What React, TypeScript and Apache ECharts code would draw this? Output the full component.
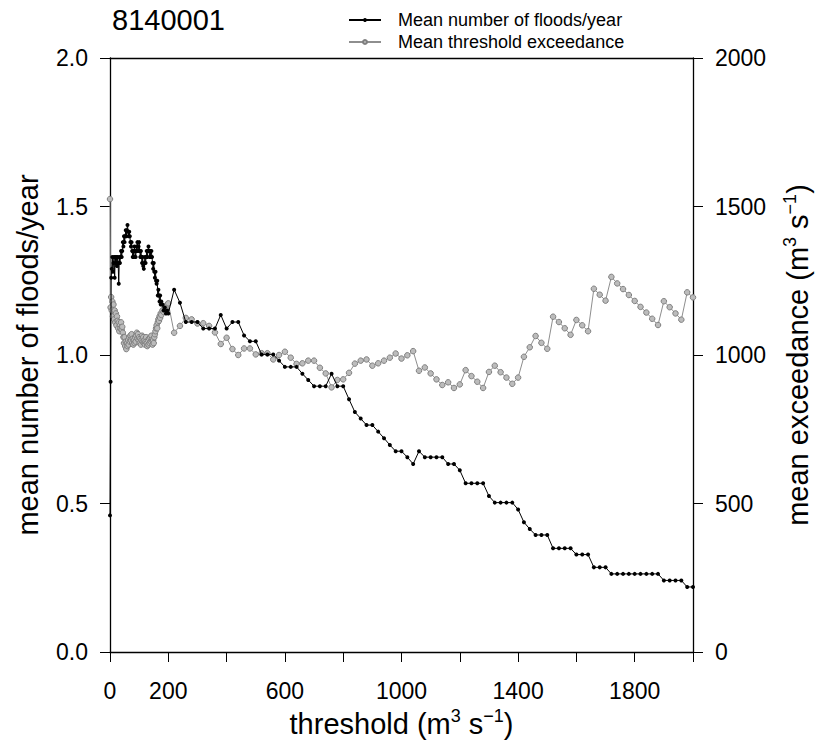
import React, { useEffect, useRef } from 'react';
import * as echarts from 'echarts';

const FONT = '"Liberation Sans", Arial, Helvetica, sans-serif';

const stationId = '8140001';
const seriesNames = ['Mean number of floods/year', 'Mean threshold exceedance'];
const xLabelValues = [0, 200, 600, 1000, 1400, 1800];
const xAxisTitle = '{n|threshold (m}{s|3}{n|\u00a0s}{s|\u22121}{n|)}';
const leftAxisTitle = 'mean number of floods/year';
const rightAxisTitle = '{n|mean exceedance (m}{s|3}{n|\u00a0s}{s|\u22121}{n|)}';

// dense low-threshold part (m3/s)
const thresholdsLow = [
  0, 2, 4, 6, 8, 10, 12, 14, 16, 18,
  20, 22, 24, 26, 28, 30, 32, 34, 36, 38,
  40, 42, 44, 46, 48, 50, 52, 54, 56, 58,
  60, 62, 64, 66, 68, 70, 72, 74, 76, 78,
  80, 82, 84, 86, 88, 90, 92, 94, 96, 98,
  100, 102, 104, 106, 108, 110, 112, 114, 116, 118,
  120, 122, 124, 126, 128, 130, 132, 134, 136, 138,
  140, 142, 144, 146, 148, 150, 152, 154, 156, 158,
  160, 162, 164, 166, 168, 170, 172, 174, 176,
  180, 184, 188, 192, 196, 200,
];
const floodsLow = [
  0.46, 0.91, 1.26, 1.29, 1.33, 1.28, 1.31, 1.33, 1.26, 1.33,
  1.31, 1.33, 1.30, 1.33, 1.31, 1.24, 1.33, 1.31, 1.33, 1.35,
  1.33, 1.35, 1.38, 1.365, 1.40, 1.38, 1.40, 1.42, 1.40, 1.42,
  1.438, 1.415, 1.40, 1.415, 1.40, 1.38, 1.365, 1.38, 1.35, 1.33,
  1.35, 1.33, 1.365, 1.35, 1.33, 1.35, 1.365, 1.38, 1.35, 1.365,
  1.38, 1.35, 1.33, 1.35, 1.33, 1.31, 1.33, 1.30, 1.29, 1.31,
  1.33, 1.31, 1.33, 1.35, 1.33, 1.35, 1.365, 1.35, 1.33, 1.35,
  1.33, 1.35, 1.33, 1.31, 1.29, 1.31, 1.28, 1.26, 1.28, 1.25,
  1.24, 1.25, 1.20, 1.22, 1.20, 1.18, 1.20, 1.17, 1.18,
  1.17, 1.15, 1.16, 1.14, 1.15, 1.14,
];
const exceedLow = [
  1525, 1160, 1195, 1150, 1180, 1130, 1170, 1120, 1150, 1110,
  1140, 1100, 1130, 1115, 1090, 1110, 1080, 1100, 1090, 1110,
  1085, 1095, 1075, 1060, 1040, 1060, 1030, 1045, 1020, 1040,
  1030, 1050, 1035, 1060, 1045, 1065, 1050, 1070, 1040, 1055,
  1035, 1050, 1040, 1060, 1045, 1065, 1075, 1055, 1070, 1050,
  1060, 1040, 1055, 1035, 1050, 1065, 1045, 1060, 1040, 1050,
  1035, 1045, 1060, 1040, 1030, 1050, 1035, 1055, 1040, 1060,
  1045, 1065, 1050, 1035, 1050, 1040, 1060, 1070, 1080, 1090,
  1100, 1090, 1110, 1120, 1115, 1130, 1125, 1140, 1135,
  1150, 1145, 1160, 1155, 1170, 1174,
];

// higher thresholds, 20 m3/s apart
const thresholdsHigh = [
  220, 240, 260, 280, 300, 320, 340, 360, 380, 400,
  420, 440, 460, 480, 500, 520, 540, 560, 580, 600,
  620, 640, 660, 680, 700, 720, 740, 760, 780, 800,
  820, 840, 860, 880, 900, 920, 940, 960, 980, 1000,
  1020, 1040, 1060, 1080, 1100, 1120, 1140, 1160, 1180, 1200,
  1220, 1240, 1260, 1280, 1300, 1320, 1340, 1360, 1380, 1400,
  1420, 1440, 1460, 1480, 1500, 1520, 1540, 1560, 1580, 1600,
  1620, 1640, 1660, 1680, 1700, 1720, 1740, 1760, 1780, 1800,
  1820, 1840, 1860, 1880, 1900, 1920, 1940, 1960, 1980, 2000,
];
const floodsHigh = [
  1.22, 1.176, 1.111, 1.111, 1.111, 1.089, 1.089, 1.089, 1.135, 1.089,
  1.111, 1.111, 1.066, 1.046, 1.046, 1.002, 1.002, 1.002, 0.981, 0.960,
  0.960, 0.960, 0.937, 0.916, 0.895, 0.895, 0.895, 0.937, 0.895, 0.895,
  0.851, 0.808, 0.786, 0.764, 0.764, 0.742, 0.720, 0.697, 0.676, 0.676,
  0.656, 0.633, 0.676, 0.656, 0.656, 0.656, 0.656, 0.633, 0.633, 0.612,
  0.568, 0.568, 0.568, 0.568, 0.525, 0.503, 0.503, 0.503, 0.503, 0.480,
  0.437, 0.414, 0.394, 0.394, 0.394, 0.349, 0.349, 0.349, 0.349, 0.328,
  0.328, 0.328, 0.285, 0.285, 0.285, 0.263, 0.263, 0.263, 0.263, 0.263,
  0.263, 0.263, 0.263, 0.263, 0.241, 0.241, 0.241, 0.241, 0.219, 0.219,
];
const exceedHigh = [
  1075, 1098, 1125, 1120, 1106, 1107, 1098, 1076, 1037, 1058,
  1020, 1000, 1022, 1022, 1002, 1006, 1006, 985, 1000, 1011,
  991, 970, 972, 981, 981, 957, 938, 891, 916, 918,
  940, 971, 981, 985, 964, 972, 981, 991, 1005, 988,
  999, 1013, 947, 958, 938, 918, 899, 908, 889, 901,
  949, 929, 910, 889, 943, 964, 942, 924, 903, 924,
  994, 1026, 1064, 1041, 1021, 1129, 1111, 1090, 1068, 1118,
  1100, 1080, 1223, 1203, 1183, 1263, 1241, 1222, 1202, 1182,
  1162, 1143, 1122, 1101, 1181, 1161, 1140, 1119, 1211, 1194,
];

export default function App() {
  const ref = useRef<HTMLDivElement>(null);

  useEffect(() => {
    if (!ref.current) return;
    const chart = echarts.init(ref.current, null, { renderer: 'svg' });

    const thresholds = thresholdsLow.concat(thresholdsHigh);
    const floods = floodsLow.concat(floodsHigh);
    const exceed = exceedLow.concat(exceedHigh);

    const axisLine = { show: true, onZero: false, lineStyle: { color: '#000', width: 1.3 } };
    const axisTick = { show: true, inside: false, length: 10, lineStyle: { color: '#000', width: 1 } };
    const labelStyle = { fontSize: 23, color: '#000', fontFamily: FONT };
    const supRich = {
      n: { fontSize: 29, lineHeight: 34, fontFamily: FONT, color: '#000' },
      s: { fontSize: 18, lineHeight: 18, fontFamily: FONT, color: '#000', verticalAlign: 'top' },
    };

    chart.setOption({
      animation: false,
      backgroundColor: '#fff',
      textStyle: { fontFamily: FONT },
      title: {
        text: stationId,
        left: 112,
        top: 5,
        padding: 0,
        textStyle: { fontSize: 29, fontWeight: 'normal', color: '#000', fontFamily: FONT },
      },
      legend: {
        orient: 'vertical',
        left: 348,
        top: 11,
        padding: 0,
        itemGap: 4,
        itemWidth: 32,
        itemHeight: 5,
        data: seriesNames,
        textStyle: { fontSize: 18, color: '#000', fontFamily: FONT, padding: [0, 0, 0, 12] },
      },
      grid: { left: 110, right: 128, top: 58, bottom: 94, containLabel: false, outerBoundsMode: 'none' },
      xAxis: [
        {
          type: 'value',
          min: 0,
          max: 2000,
          interval: 200,
          position: 'bottom',
          axisLine,
          axisTick,
          splitLine: { show: false },
          axisLabel: {
            ...labelStyle,
            margin: 27,
            formatter: (v: number) => (xLabelValues.includes(v) ? String(v) : ''),
          },
          name: xAxisTitle,
          nameLocation: 'middle',
          nameGap: 53,
          nameTextStyle: { fontSize: 29, fontFamily: FONT, color: '#000', rich: supRich },
        },
        {
          type: 'value',
          min: 0,
          max: 2000,
          position: 'top',
          axisLine,
          axisTick: { show: false },
          axisLabel: { show: false },
          splitLine: { show: false },
        },
      ],
      yAxis: [
        {
          type: 'value',
          min: 0,
          max: 2,
          interval: 0.5,
          position: 'left',
          axisLine,
          axisTick,
          splitLine: { show: false },
          axisLabel: { ...labelStyle, margin: 22, formatter: (v: number) => v.toFixed(1) },
          name: leftAxisTitle,
          nameLocation: 'middle',
          nameRotate: 90,
          nameGap: 68,
          nameTextStyle: { fontSize: 29, fontFamily: FONT, color: '#000' },
        },
        {
          type: 'value',
          min: 0,
          max: 2000,
          interval: 500,
          position: 'right',
          axisLine,
          axisTick,
          splitLine: { show: false },
          axisLabel: { ...labelStyle, margin: 22, formatter: (v: number) => String(v) },
          name: rightAxisTitle,
          nameLocation: 'middle',
          nameRotate: 90,
          nameGap: 88,
          nameTextStyle: { fontSize: 29, fontFamily: FONT, color: '#000', rich: supRich },
        },
      ],
      series: [
        {
          name: seriesNames[0],
          type: 'line',
          xAxisIndex: 0,
          yAxisIndex: 0,
          data: thresholds.map((t, i) => [t, floods[i]]),
          symbol: 'circle',
          symbolSize: 4,
          lineStyle: { color: '#000', width: 1 },
          itemStyle: { color: '#000' },
          z: 3,
        },
        {
          name: seriesNames[1],
          type: 'line',
          xAxisIndex: 0,
          yAxisIndex: 1,
          data: thresholds.map((t, i) => [t, exceed[i]]),
          symbol: 'circle',
          symbolSize: 5.5,
          lineStyle: { color: '#8e8e8e', width: 1 },
          itemStyle: { color: '#bcbcbc', borderColor: '#7f7f7f', borderWidth: 1 },
          z: 2,
        },
      ],
    });

    return () => chart.dispose();
  }, []);

  return (
    <div
      ref={ref}
      style={{ position: 'absolute', left: 0, top: 0, width: 821, height: 746, background: '#fff' }}
    />
  );
}
